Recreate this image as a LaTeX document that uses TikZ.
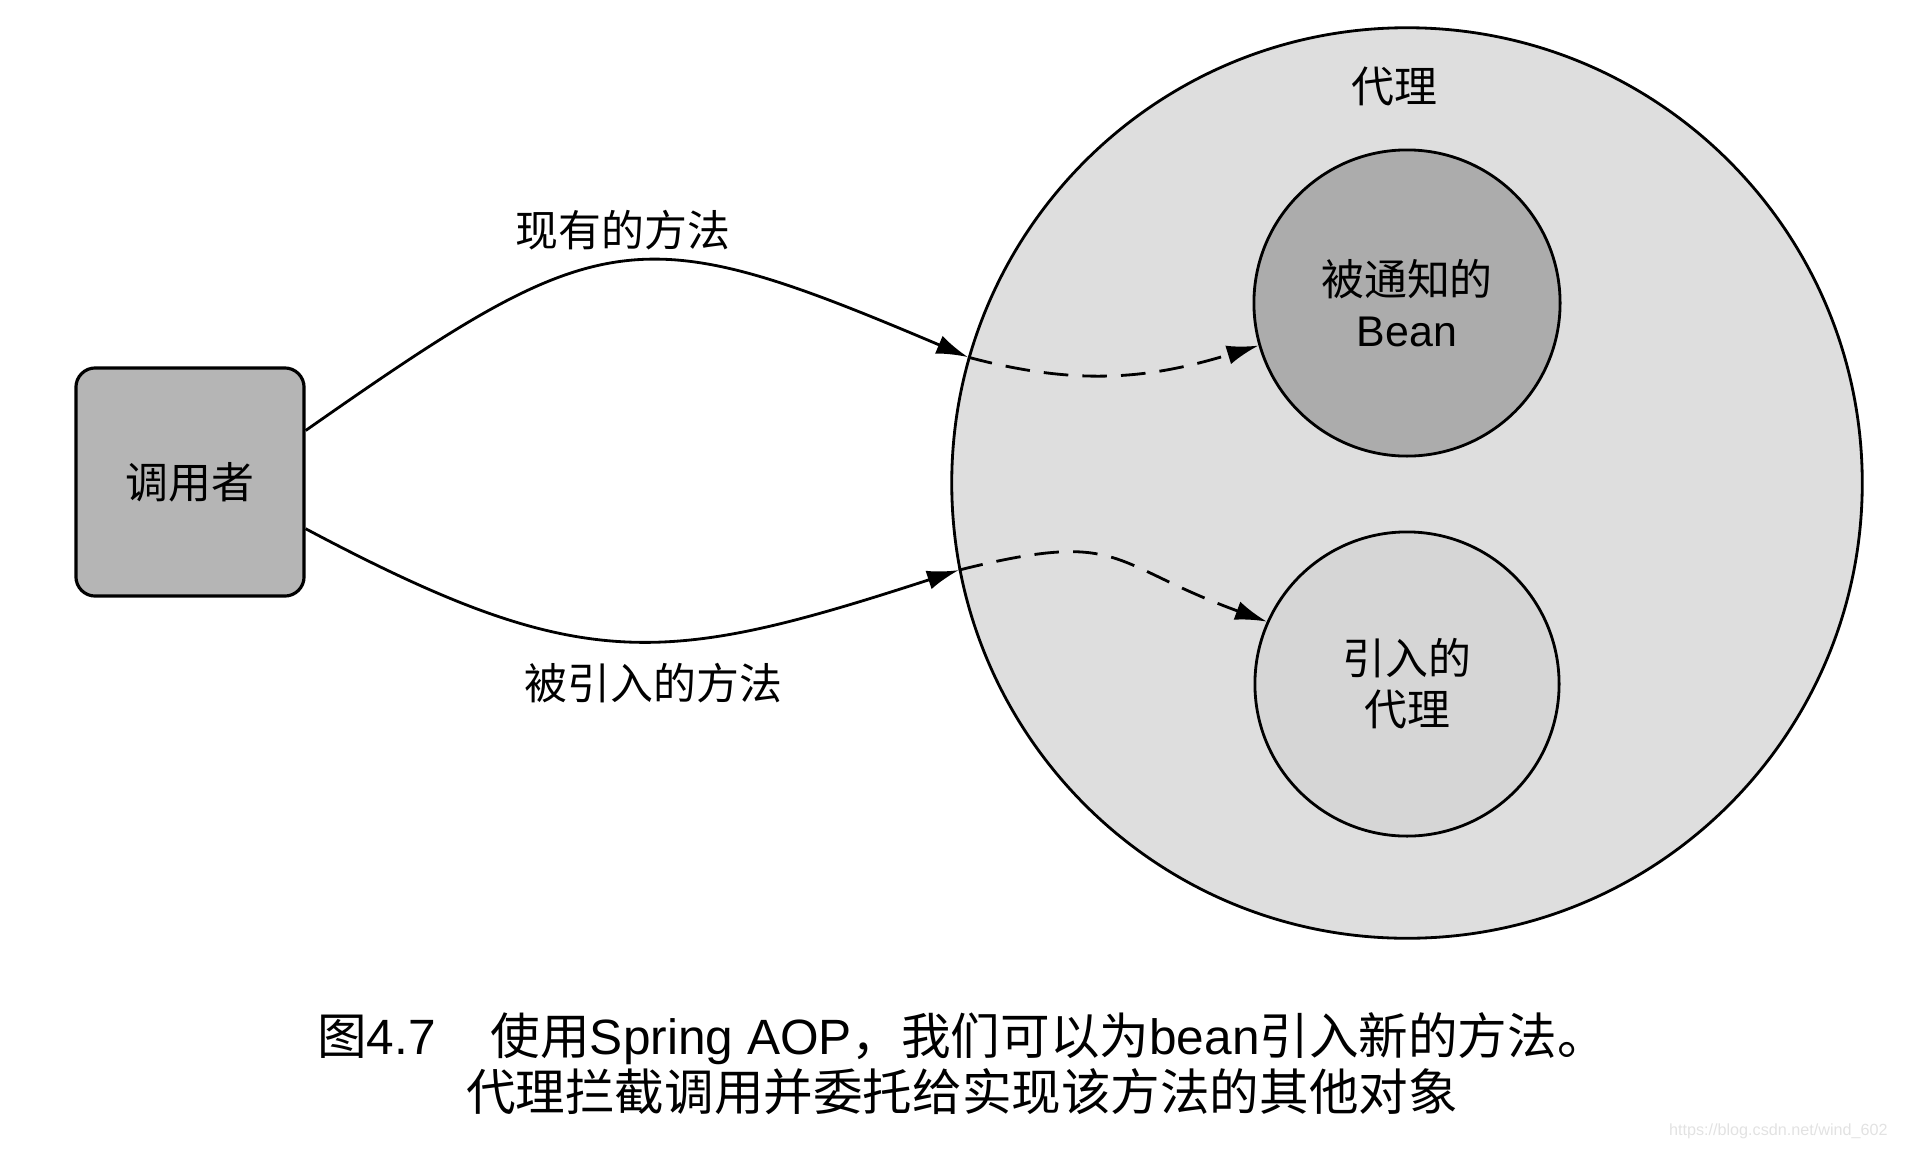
\documentclass[tikz,border=0pt]{standalone}
\usepackage{fontspec}
\setmainfont{Noto Sans CJK SC}
\newfontfamily\lat{Liberation Sans}
\newfontfamily\latcap{Liberation Sans}
\usetikzlibrary{arrows.meta,positioning}
\definecolor{callerfill}{RGB}{181,181,181}
\definecolor{proxyfill}{RGB}{222,222,222}
\definecolor{beanfill}{RGB}{172,172,172}
\definecolor{introfill}{RGB}{214,214,214}
\definecolor{markcolor}{RGB}{226,226,226}
\tikzset{
  lblfont/.style={font=\fontsize{12.2pt}{14.5pt}\selectfont},
  callerbox/.style={draw, line width=0.9pt, fill=callerfill, rounded corners=5.5pt,
    minimum width=2.28cm, minimum height=2.28cm, lblfont},
  ringnd/.style={draw, circle, line width=0.8pt, inner sep=0pt, align=center, lblfont},
  callln/.style={-{Latex[length=9pt,width=5.5pt]}, line width=0.8pt},
  hopln/.style={callln, dash pattern=on 7pt off 4pt},
}
\begin{document}
\begin{tikzpicture}[x=0.01cm, y=0.01cm]
  \useasboundingbox (0,0) rectangle (1906,-1148);
  \node[ringnd, fill=proxyfill, minimum size=9.1cm] (proxy) at (1407,-483) {};
  \node[lblfont, below=0.28cm of proxy.north, xshift=-0.13cm] (proxylbl) {代理};
  \node[ringnd, fill=beanfill, minimum size=3.06cm] (bean) at (1407,-303) {被通知的\\{\lat Bean}};
  \node[ringnd, fill=introfill, minimum size=3.04cm] (intro) at (1407,-684) {引入的\\代理};
  \node[callerbox] (caller) at (190,-482) {调用者};

  \draw[callln] (caller.24) to[out=35, in=157, looseness=1.39]
    node[lblfont, above, pos=0.5] (oldlbl) {现有的方法} (proxy.164.6);
  \draw[hopln] (proxy.164.6) to[out=-15, in=197] (bean.196);
  \draw[callln] (caller.-22) to[out=-28, in=198, looseness=1.22]
    node[lblfont, below, pos=0.5, yshift=-0.1cm, xshift=0.29cm] (newlbl) {被引入的方法} (proxy.191.5);
  \draw[hopln] (proxy.191.5) to[out=14, in=160, looseness=1.4] (intro.156);

  \node[font=\fontsize{14.1pt}{14.5pt}\selectfont, align=center] (caption) at (962,-1064)
    {图{\latcap 4.7}\hspace{0.55cm}使用{\latcap Spring AOP}，我们可以为{\latcap bean}引入新的方法。\\
     代理拦截调用并委托给实现该方法的其他对象};
  \node[font=\lat\fontsize{4.6pt}{5pt}\selectfont, text=markcolor, anchor=east] (mark)
    at (1900,-1131) {https://blog.csdn.net/wind\_602};
\end{tikzpicture}
\end{document}
